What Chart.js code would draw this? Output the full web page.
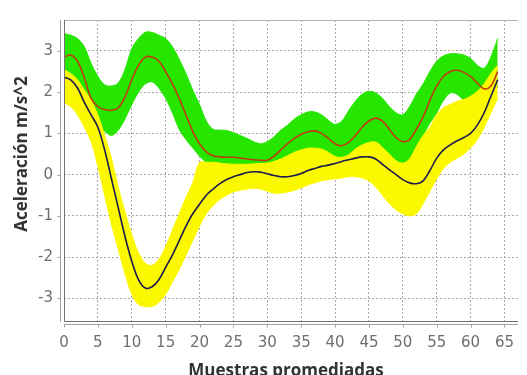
<!DOCTYPE html>
<html>
<head>
<meta charset="utf-8">
<script src="https://cdn.jsdelivr.net/npm/chart.js@4/dist/chart.umd.min.js"></script>
<style>
  html, body { margin: 0; padding: 0; background: #ffffff; }
  #wrap { width: 527px; height: 375px; }
</style>
</head>
<body>
<div id="wrap"><canvas id="c" width="527" height="375"></canvas></div>
<script>
// Sample index (averaged samples)
const samples = [0,1,2,3,4,5,6,7,8,9,10,11,12,13,14,15,16,17,18,19,20,21,22,23,24,25,26,27,28,29,30,31,32,33,34,35,36,37,38,39,40,41,42,43,44,45,46,47,48,49,50,51,52,53,54,55,56,57,58,59,60,61,62,63,64];

// Group A (green traces): mean curve and envelope
const meanA = [2.85,2.9,2.75,2.35,1.85,1.65,1.58,1.56,1.62,1.88,2.3,2.65,2.85,2.85,2.75,2.5,2.2,1.85,1.45,1.05,0.75,0.55,0.46,0.43,0.42,0.42,0.4,0.38,0.36,0.35,0.35,0.45,0.6,0.75,0.88,0.98,1.04,1.06,1.0,0.88,0.75,0.7,0.78,0.95,1.15,1.3,1.37,1.3,1.1,0.9,0.8,0.85,1.1,1.4,1.8,2.15,2.38,2.5,2.53,2.48,2.38,2.22,2.08,2.15,2.5];
const upperA = [3.42,3.38,3.3,3.1,2.7,2.38,2.18,2.15,2.22,2.55,3.05,3.3,3.45,3.45,3.38,3.3,3.1,2.8,2.45,2.05,1.7,1.3,1.1,1.08,1.07,1.02,0.95,0.88,0.8,0.75,0.8,0.92,1.08,1.2,1.35,1.45,1.52,1.52,1.45,1.32,1.22,1.3,1.55,1.78,1.95,2.02,1.98,1.85,1.65,1.5,1.45,1.65,1.95,2.2,2.5,2.75,2.88,2.93,2.93,2.9,2.82,2.65,2.58,2.85,3.3];
const lowerA = [2.25,2.2,2.0,1.7,1.35,1.15,1.05,0.95,1.08,1.35,1.7,2.0,2.2,2.25,2.1,1.85,1.5,1.1,0.85,0.65,0.45,0.3,0.25,0.22,0.19,0.17,0.17,0.17,0.18,0.19,0.2,0.25,0.32,0.4,0.48,0.55,0.58,0.58,0.55,0.45,0.35,0.33,0.4,0.55,0.65,0.72,0.73,0.6,0.42,0.25,0.19,0.3,0.62,0.95,1.25,1.5,1.8,1.98,1.95,1.8,1.72,1.68,1.7,1.9,2.15];

// Group B (yellow traces): mean curve and envelope
const meanB = [2.36,2.3,2.1,1.75,1.45,1.15,0.6,-0.1,-0.8,-1.5,-2.1,-2.55,-2.75,-2.72,-2.55,-2.25,-1.95,-1.6,-1.25,-0.95,-0.72,-0.5,-0.35,-0.22,-0.12,-0.05,0.0,0.05,0.07,0.06,0.02,-0.02,-0.05,-0.05,-0.02,0.03,0.1,0.15,0.2,0.23,0.27,0.32,0.36,0.4,0.43,0.43,0.38,0.25,0.12,0.0,-0.12,-0.2,-0.22,-0.15,0.1,0.4,0.6,0.72,0.82,0.9,1.0,1.2,1.5,1.9,2.3];
const upperB = [2.55,2.45,2.3,2.05,1.8,1.45,0.95,0.4,-0.3,-0.9,-1.45,-1.9,-2.15,-2.2,-2.05,-1.75,-1.35,-0.95,-0.55,-0.2,0.3,0.3,0.3,0.28,0.26,0.25,0.25,0.25,0.26,0.27,0.28,0.32,0.38,0.46,0.54,0.6,0.64,0.64,0.62,0.54,0.44,0.42,0.48,0.62,0.72,0.78,0.79,0.66,0.5,0.34,0.28,0.38,0.68,0.95,1.15,1.45,1.62,1.7,1.78,1.82,1.9,2.02,2.2,2.45,2.65];
const lowerB = [1.75,1.65,1.45,1.15,0.8,0.2,-0.5,-1.2,-1.8,-2.4,-2.9,-3.15,-3.2,-3.2,-3.1,-2.9,-2.6,-2.3,-1.95,-1.6,-1.25,-0.95,-0.75,-0.6,-0.5,-0.42,-0.38,-0.35,-0.33,-0.35,-0.4,-0.45,-0.45,-0.42,-0.38,-0.32,-0.25,-0.2,-0.15,-0.12,-0.1,-0.08,-0.05,-0.05,-0.08,-0.15,-0.3,-0.5,-0.7,-0.85,-0.95,-1.0,-0.95,-0.7,-0.4,-0.1,0.15,0.3,0.4,0.5,0.65,0.85,1.15,1.5,1.85];

// Tick labels
const xTicks = [0,5,10,15,20,25,30,35,40,45,50,55,60,65];
const yTicks = [-3,-2,-1,0,1,2,3];

const xTitle = 'Muestras promediadas';
const yTitle = 'Aceleración m/s^2';

const toPoints = arr => samples.map((s, i) => ({ x: s, y: arr[i] }));

const GREEN = '#26e600';
const YELLOW = '#fbf800';

// Frame, offset axis lines, small tick marks and axis titles
const frame = {
  id: 'frame',
  afterDraw(chart) {
    const { ctx, chartArea: a, scales } = chart;
    ctx.save();
    ctx.lineWidth = 1;
    // plot box
    ctx.strokeStyle = '#b0b0b0';
    ctx.beginPath();
    ctx.moveTo(a.left, a.top + 0.5); ctx.lineTo(a.right, a.top + 0.5);
    ctx.stroke();
    ctx.strokeStyle = '#707070';
    ctx.beginPath();
    ctx.moveTo(a.left + 0.5, a.top); ctx.lineTo(a.left + 0.5, a.bottom + 0.5);
    ctx.lineTo(a.right, a.bottom + 0.5);
    ctx.stroke();
    // offset axis lines
    ctx.strokeStyle = '#a0a0a0';
    const ax = a.left - 3.5;
    const ay = a.bottom + 3.5;
    ctx.beginPath();
    ctx.moveTo(ax, a.top); ctx.lineTo(ax, a.bottom + 1);
    ctx.moveTo(a.left, ay); ctx.lineTo(a.right, ay);
    ctx.stroke();
    ctx.beginPath();
    yTicks.forEach(v => {
      const py = Math.round(scales.y.getPixelForValue(v)) + 0.5;
      ctx.moveTo(ax - 3, py); ctx.lineTo(ax, py);
    });
    xTicks.forEach(v => {
      const px = Math.round(scales.x.getPixelForValue(v)) + 0.5;
      ctx.moveTo(px, ay); ctx.lineTo(px, ay + 3);
    });
    ctx.stroke();
    // axis titles
    ctx.fillStyle = '#333333';
    ctx.font = 'bold 17px "Open Sans", sans-serif';
    ctx.textAlign = 'center';
    ctx.textBaseline = 'alphabetic';
    ctx.fillText(xTitle, 286, 376);
    ctx.translate(27, 154);
    ctx.rotate(-Math.PI / 2);
    ctx.fillText(yTitle, 0, 0);
    ctx.restore();
  }
};

new Chart(document.getElementById('c'), {
  type: 'line',
  data: {
    datasets: [
      { label: 'Media A', data: toPoints(meanA), borderColor: '#c03a12', borderWidth: 1.6, pointRadius: 0, tension: 0.35, fill: false, order: 0 },
      { label: 'Media B', data: toPoints(meanB), borderColor: '#1c1c4e', borderWidth: 1.6, pointRadius: 0, tension: 0.35, fill: false, order: 1 },
      { label: 'A máx', data: toPoints(upperA), borderColor: GREEN, borderWidth: 1, backgroundColor: GREEN, pointRadius: 0, tension: 0.35, fill: 3, order: 4 },
      { label: 'A mín', data: toPoints(lowerA), borderColor: GREEN, borderWidth: 1, pointRadius: 0, tension: 0.35, fill: false, order: 5 },
      { label: 'B máx', data: toPoints(upperB), borderColor: YELLOW, borderWidth: 1, backgroundColor: YELLOW, pointRadius: 0, tension: 0.35, fill: 5, order: 2 },
      { label: 'B mín', data: toPoints(lowerB), borderColor: YELLOW, borderWidth: 1, pointRadius: 0, tension: 0.35, fill: false, order: 3 }
    ]
  },
  options: {
    responsive: false,
    animation: false,
    devicePixelRatio: 1,
    layout: { padding: { top: 12, right: 0, bottom: 0, left: 0 } },
    plugins: { legend: { display: false }, tooltip: { enabled: false } },
    scales: {
      x: {
        type: 'linear',
        min: 0,
        max: 67,
        afterBuildTicks: s => { s.ticks = xTicks.map(v => ({ value: v })); },
        afterFit: s => { s.height = 54; },
        grid: { color: '#a8a8a8', lineWidth: 1, drawTicks: false },
        border: { display: false, dash: [2, 2] },
        ticks: { color: '#6e6e6e', font: { family: '"DejaVu Sans", sans-serif', size: 15 }, padding: 13, maxRotation: 0, autoSkip: false }
      },
      y: {
        type: 'linear',
        min: -3.55,
        max: 3.75,
        afterBuildTicks: s => { s.ticks = yTicks.map(v => ({ value: v })); },
        afterFit: s => { s.width = 64; },
        grid: { color: '#a8a8a8', lineWidth: 1, drawTicks: false },
        border: { display: false, dash: [2, 2] },
        ticks: { color: '#6e6e6e', font: { family: '"DejaVu Sans", sans-serif', size: 15 }, padding: 11 }
      }
    }
  },
  plugins: [frame]
});
</script>
</body>
</html>
